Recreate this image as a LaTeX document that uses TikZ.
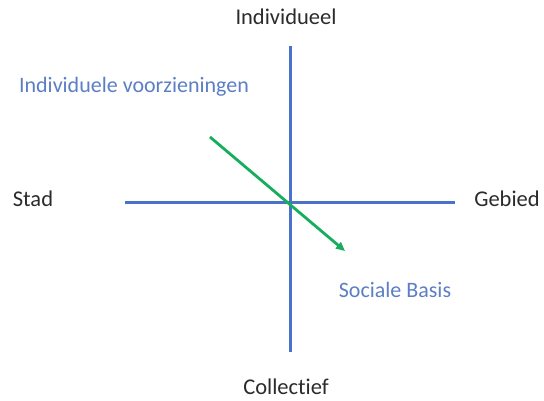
\documentclass[tikz,border=0pt]{standalone}
\usepackage{fontspec}
\setmainfont{Carlito}[Ligatures=NoCommon]
\usetikzlibrary{arrows.meta}
\definecolor{axisc}{HTML}{4A72C8}
\definecolor{zonec}{HTML}{5B7EC4}
\definecolor{movec}{HTML}{16AD5C}
\definecolor{polec}{HTML}{2B2B2B}
\tikzset{
  axis/.style={draw=axisc, line width=3pt},
  pole/.style={font=\fontsize{22.5}{26}\selectfont, text=polec, inner sep=1pt},
  zone/.style={font=\fontsize{22}{26}\selectfont, text=zonec, inner sep=1pt},
  move/.style={-{Triangle[length=9pt,width=8pt]}, draw=movec, line width=2.8pt},
}

\begin{document}
\begin{tikzpicture}[x=1pt, y=-1pt]
\useasboundingbox (0,0) rectangle (544,401);
% the four poles
\node[pole] (ind) at (286,17) {Individueel};
\node[pole] (col) at (286,387) {Collectief};
\node[pole] (stad) at (33,199) {Stad};
\node[pole] (geb) at (507,199) {Gebied};
% the two axes
\coordinate (top) at (290,46);
\coordinate (bot) at (290,352);
\coordinate (lft) at (125,203);
\coordinate (rgt) at (455,203);
\draw[axis] (top) -- (bot);
\draw[axis] (lft) -- (rgt);
% the shift from individual to social
\node[zone] (vrz) at (134,87) {Individuele voorzieningen};
\node[zone] (soc) at (395,290) {Sociale Basis};
\coordinate (from) at (210,137);
\coordinate (to) at (345,251);
\draw[move] (from) -- (to);
\end{tikzpicture}
\end{document}
